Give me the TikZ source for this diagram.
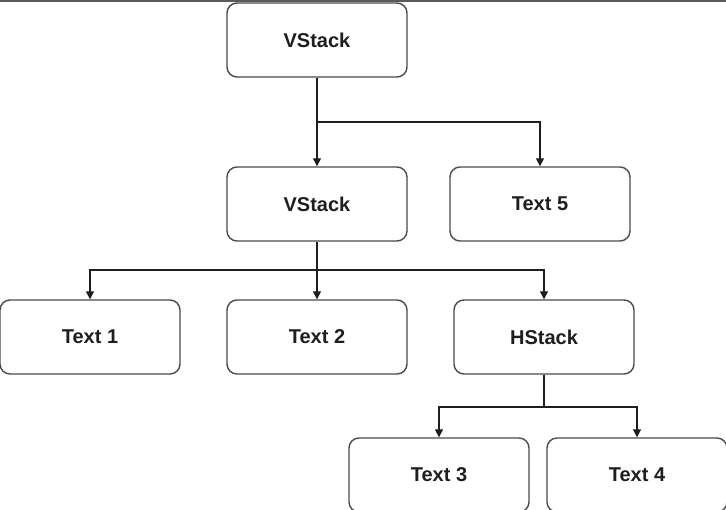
\documentclass[tikz,border=0pt]{standalone}
\usepackage{fontspec}
\setmainfont{Liberation Sans}
\usetikzlibrary{arrows.meta}
\definecolor{edge}{HTML}{4A4A4A}
\definecolor{ink}{HTML}{1E1E1E}
\definecolor{topbar}{HTML}{5A5A5A}
\tikzset{
  box/.style={draw=edge, line width=1.4pt, rounded corners=10pt, fill=white,
    minimum width=180pt, minimum height=74pt, inner sep=0pt,
    font=\fontsize{20}{22}\selectfont\bfseries, text=ink},
  conn/.style={draw=ink, line width=1.4pt, -{Triangle[width=8pt,length=8pt]}}
}
\begin{document}
\begin{tikzpicture}[x=1pt,y=-1pt]
\useasboundingbox (0,0) rectangle (726,510);
\fill[topbar] (0,0) rectangle (726,2.5);
\node[box] (v1) at (317,40) {VStack};
\node[box] (v2) at (317,204) {VStack};
\node[box] (t5) at (540,204) {Text 5};
\node[box] (t1) at (90,337) {Text 1};
\node[box] (t2) at (317,337) {Text 2};
\node[box] (h) at (544,337) {HStack};
\node[box] (t3) at (439,475) {Text 3};
\node[box] (t4) at (637,475) {Text 4};
\coordinate (b1) at (0,122);
\coordinate (b2) at (0,270);
\coordinate (b3) at (0,407);
\draw[conn] (v1.south) -- (v2.north);
\draw[conn] (v1.south) -- (v1.south |- b1) -| (t5.north);
\draw[conn] (v2.south) -- (t2.north);
\draw[conn] (v2.south) -- (v2.south |- b2) -| (t1.north);
\draw[conn] (v2.south) -- (v2.south |- b2) -| (h.north);
\draw[conn] (h.south) -- (h.south |- b3) -| (t3.north);
\draw[conn] (h.south) -- (h.south |- b3) -| (t4.north);
\end{tikzpicture}
\end{document}
